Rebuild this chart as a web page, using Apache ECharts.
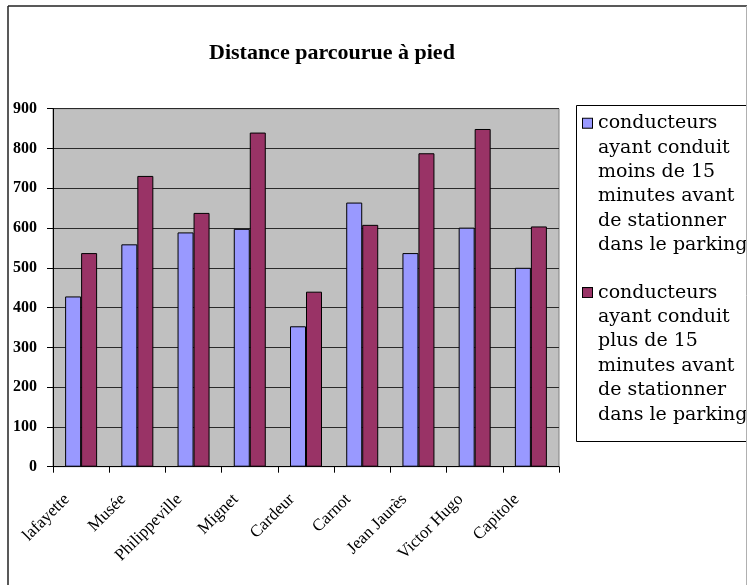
<!DOCTYPE html>
<html>
<head>
<meta charset="utf-8">
<script src="https://cdn.jsdelivr.net/npm/echarts@6/dist/echarts.min.js"></script>
<style>
html,body{margin:0;padding:0;background:#fff;}
#chart{width:747px;height:585px;}
</style>
</head>
<body>
<div id="chart"></div>
<script>
const titleText = 'Distance parcourue à pied';
const categories = ['lafayette', 'Musée', 'Philippeville', 'Mignet', 'Cardeur', 'Carnot', 'Jean Jaurès', 'Victor Hugo', 'Capitole'];
const seriesNames = [
  'conducteurs ayant conduit moins de 15 minutes avant de stationner dans le parking',
  'conducteurs ayant conduit plus de 15 minutes avant de stationner dans le parking'
];
const legendLines = [
  ['conducteurs', 'ayant conduit', 'moins de 15', 'minutes avant', 'de stationner', 'dans le parking'],
  ['conducteurs', 'ayant conduit', 'plus de 15', 'minutes avant', 'de stationner', 'dans le parking']
];
const valuesMoins = [428, 559, 589, 598, 353, 664, 537, 601, 500];
const valuesPlus = [537, 731, 638, 840, 440, 608, 788, 849, 604];
const yMin = 0, yMax = 900, yStep = 100;

const colors = ['#9999FF', '#993366'];
const serif = '"Liberation Serif", "Times New Roman", serif';
const legendFont = '"DejaVu Serif", serif';

const chart = echarts.init(document.getElementById('chart'), null, {renderer: 'canvas'});

const rich = {
  t: {fontFamily: legendFont, fontSize: 19, lineHeight: 24.4, color: '#000', padding: [0, 0, 0, 6], verticalAlign: 'middle'},
  sp: {width: 9, lineHeight: 24.4, fontSize: 19, verticalAlign: 'middle'}
};
colors.forEach((c, i) => {
  rich['sq' + i] = {width: 9, height: 9, backgroundColor: c, borderColor: '#000', borderWidth: 1, lineHeight: 24.4, fontSize: 1, verticalAlign: 'middle'};
});

const option = {
  backgroundColor: '#fff',
  animation: false,
  title: {
    text: titleText,
    left: 209,
    top: 42,
    padding: 0,
    textStyle: {fontFamily: serif, fontWeight: 'bold', fontSize: 22, color: '#000'}
  },
  legend: {
    orient: 'vertical',
    left: 576,
    top: 105,
    selectedMode: false,
    itemWidth: 0,
    itemHeight: 0,
    itemGap: 23,
    icon: 'rect',
    borderWidth: 0,
    padding: [6, 0, 14, 1],
    data: seriesNames,
    formatter: function (name) {
      const i = seriesNames.indexOf(name);
      return legendLines[i].map((l, k) => (k === 0 ? '{sq' + i + '| }' : '{sp| }') + '{t|' + l + '}').join('\n');
    },
    textStyle: {rich: rich, fontFamily: legendFont, fontSize: 19, lineHeight: 24.4}
  },
  grid: {
    left: 53,
    right: 188,
    top: 108.7,
    bottom: 118.3,
    show: true,
    backgroundColor: '#C0C0C0',
    borderColor: '#808080',
    borderWidth: 1,
    containLabel: false,
    outerBoundsMode: 'none'
  },
  xAxis: {
    type: 'category',
    data: categories,
    boundaryGap: true,
    axisLine: {show: true, lineStyle: {color: '#000', width: 1}},
    axisTick: {show: true, length: 6, inside: false, lineStyle: {color: '#000'}},
    splitLine: {show: false},
    axisLabel: {
      interval: 0,
      rotate: 45,
      margin: 16,
      fontFamily: serif,
      fontSize: 17,
      color: '#000',
      padding: [0, 20, 0, 0]
    }
  },
  yAxis: {
    type: 'value',
    min: yMin,
    max: yMax,
    interval: yStep,
    axisLine: {show: true, lineStyle: {color: '#000', width: 1}},
    axisTick: {show: true, length: 6, inside: false, lineStyle: {color: '#000'}},
    splitLine: {show: true, lineStyle: {color: '#2a2a2a', width: 1}},
    axisLabel: {margin: 16, fontFamily: serif, fontWeight: 'bold', fontSize: 16, color: '#000'}
  },
  series: [
    {name: seriesNames[0], type: 'bar', data: valuesMoins, barWidth: 16, barGap: '0%',
     itemStyle: {color: colors[0], borderColor: '#000', borderWidth: 1}},
    {name: seriesNames[1], type: 'bar', data: valuesPlus, barWidth: 16, barGap: '0%',
     itemStyle: {color: colors[1], borderColor: '#000', borderWidth: 1}}
  ],
  graphic: [
    {type: 'rect', shape: {x: 576.5, y: 105.5, width: 200, height: 336}, style: {fill: 'none', stroke: '#000', lineWidth: 1}, silent: true, z: 100},
    {type: 'line', shape: {x1: 8, y1: 6, x2: 747, y2: 6}, style: {stroke: '#222', lineWidth: 1.5}, silent: true, z: 100},
    {type: 'line', shape: {x1: 8, y1: 6, x2: 8, y2: 585}, style: {stroke: '#222', lineWidth: 1.5}, silent: true, z: 100},
    {type: 'line', shape: {x1: 746.5, y1: 6, x2: 746.5, y2: 585}, style: {stroke: '#b0b0b0', lineWidth: 1}, silent: true, z: 100}
  ]
};
chart.setOption(option);
</script>
</body>
</html>
